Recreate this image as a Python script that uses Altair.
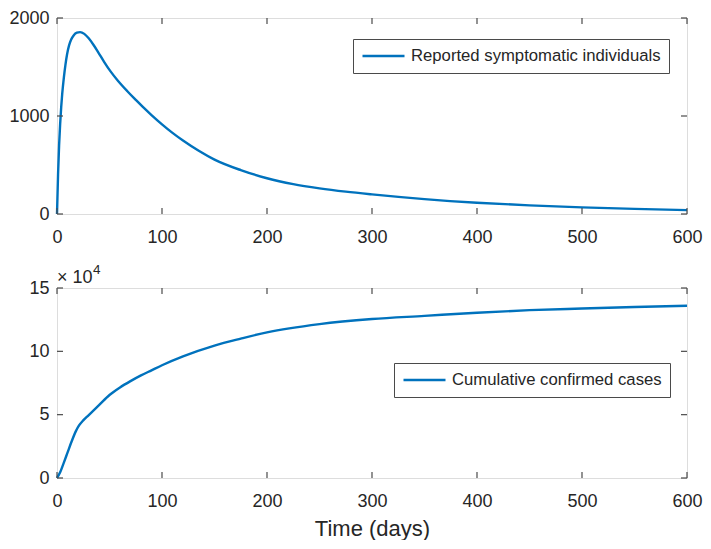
import altair as alt
import pandas as pd

# ---- data ----
days_reported = [0, 1, 2, 3, 4, 5, 6.5, 8, 9.6, 11.5, 13.5, 16, 19, 22, 26, 30, 35, 39,
                 45, 51, 58, 67, 75, 82, 90, 100, 110, 120, 135, 150, 175, 200, 225,
                 250, 275, 300, 350, 400, 450, 500, 550, 600]
reported = [0, 400, 700, 920, 1090, 1230, 1390, 1520, 1630, 1720, 1780, 1825, 1850, 1856,
            1838, 1795, 1722, 1655, 1550, 1455, 1360, 1253, 1165, 1090, 1010, 915, 828,
            750, 645, 555, 448, 365, 305, 262, 228, 200, 152, 115, 88, 68, 52, 40]

days_cumulative = [0, 3, 6, 10, 14, 18, 21, 25, 30, 40, 50, 60, 70, 80, 90, 100, 120, 150,
                   175, 200, 250, 300, 350, 400, 450, 500, 550, 600]
cumulative_e4 = [0, 0.45, 1.1, 2.0, 2.9, 3.7, 4.15, 4.55, 4.95, 5.75, 6.55, 7.15, 7.65, 8.1,
                 8.5, 8.9, 9.6, 10.45, 11.0, 11.5, 12.15, 12.55, 12.8, 13.05, 13.25, 13.38,
                 13.5, 13.6]

x_ticks = [0, 100, 200, 300, 400, 500, 600]
top_y_ticks = [0, 1000, 2000]
bottom_y_ticks = [0, 5, 10, 15]
top_label = "Reported symptomatic individuals"
bottom_label = "Cumulative confirmed cases"
x_title = "Time (days)"
exponent_base = "× 10"
exponent_power = "4"

# ---- style ----
FONT = "Liberation Sans"
TEXT = "#262626"
BOX = "#4a4a4a"
BLUE = "#0072BD"
W, H1, H2 = 630, 196, 190
TICK = 6

x_scale = alt.Scale(domain=[0, 600], nice=False, zero=False)


def panel(df, ydomain, yticks, H, legend_x, legend_y, with_title):
    y_scale = alt.Scale(domain=ydomain, nice=False)
    x_axis_kw = dict(values=x_ticks, ticks=False, tickSize=0, domain=False, grid=False,
                     labelFontSize=18, labelPadding=14, labelColor=TEXT, labelFont=FONT,
                     format="d", labelOverlap=False, labelFlush=False)
    if with_title:
        x_axis_kw.update(title=x_title, titleFont=FONT, titleFontSize=22,
                         titleFontWeight="normal", titleColor=TEXT, titlePadding=8)
    else:
        x_axis_kw.update(title=None)
    x_axis = alt.Axis(**x_axis_kw)
    y_axis = alt.Axis(values=yticks, ticks=False, tickSize=0, domain=False,
                      grid=False, labelFontSize=18, labelPadding=8,
                      labelColor=TEXT, labelFont=FONT, format="d", title=None,
                      labelOverlap=False, labelFlush=False)
    line = alt.Chart(df).mark_line(strokeWidth=2.4, interpolate="monotone").encode(
        x=alt.X("t:Q", scale=x_scale, axis=x_axis),
        y=alt.Y("v:Q", scale=y_scale, axis=y_axis),
        color=alt.Color("series:N", scale=alt.Scale(range=[BLUE]),
                        legend=alt.Legend(orient="none", legendX=legend_x, legendY=legend_y,
                                          title=None, symbolType="stroke",
                                          symbolSize=1764, symbolStrokeWidth=2.4,
                                          clipHeight=18,
                                          labelFontSize=16.7, labelFont=FONT,
                                          labelColor=TEXT, labelOffset=5, padding=8,
                                          labelLimit=600,
                                          strokeColor=BOX, fillColor="white",
                                          cornerRadius=0)),
    )
    xt = pd.DataFrame({"t": x_ticks})
    yt = pd.DataFrame({"v": yticks})
    rule = dict(color=BOX, strokeWidth=1.2)
    xb = alt.Chart(xt).mark_rule(**rule).encode(
        x=alt.X("t:Q", scale=x_scale, axis=x_axis), y=alt.value(H), y2=alt.value(H - TICK))
    xtop = alt.Chart(xt).mark_rule(**rule).encode(
        x=alt.X("t:Q", scale=x_scale, axis=x_axis), y=alt.value(0), y2=alt.value(TICK))
    yl = alt.Chart(yt).mark_rule(**rule).encode(
        y=alt.Y("v:Q", scale=y_scale, axis=y_axis), x=alt.value(0), x2=alt.value(TICK))
    yr = alt.Chart(yt).mark_rule(**rule).encode(
        y=alt.Y("v:Q", scale=y_scale, axis=y_axis), x=alt.value(W), x2=alt.value(W - TICK))
    return [line, xb, xtop, yl, yr]


top_df = pd.DataFrame({"t": days_reported, "v": reported, "series": top_label})
bot_df = pd.DataFrame({"t": days_cumulative, "v": cumulative_e4, "series": bottom_label})

top_layers = panel(top_df, [0, 2000], top_y_ticks, H1, W - 21 - 313, 21, False)
bot_layers = panel(bot_df, [0, 15], bottom_y_ticks, H2, W - 20 - 273, 75, True)

exp_df = pd.DataFrame({"base": [exponent_base], "power": [exponent_power]})
base_text = alt.Chart(exp_df).mark_text(align="left", baseline="alphabetic", fontSize=18,
                                        font=FONT, color=TEXT).encode(
    text="base:N", x=alt.value(0), y=alt.value(-5))
power_text = alt.Chart(exp_df).mark_text(align="left", baseline="alphabetic", fontSize=13.5,
                                         font=FONT, color=TEXT).encode(
    text="power:N", x=alt.value(36), y=alt.value(-14))

top = alt.layer(*top_layers).properties(width=W, height=H1)
bottom = alt.layer(*bot_layers, base_text, power_text).properties(width=W, height=H2)

chart = alt.vconcat(top, bottom, spacing=74, bounds="flush").resolve_scale(
    color="independent"
).properties(
    padding={"left": 0, "top": 0, "right": 0, "bottom": 0}
).configure_view(stroke=BOX, strokeWidth=1).configure(background="white")

chart.save("out.html", embed_options={"renderer": "svg", "actions": False})
